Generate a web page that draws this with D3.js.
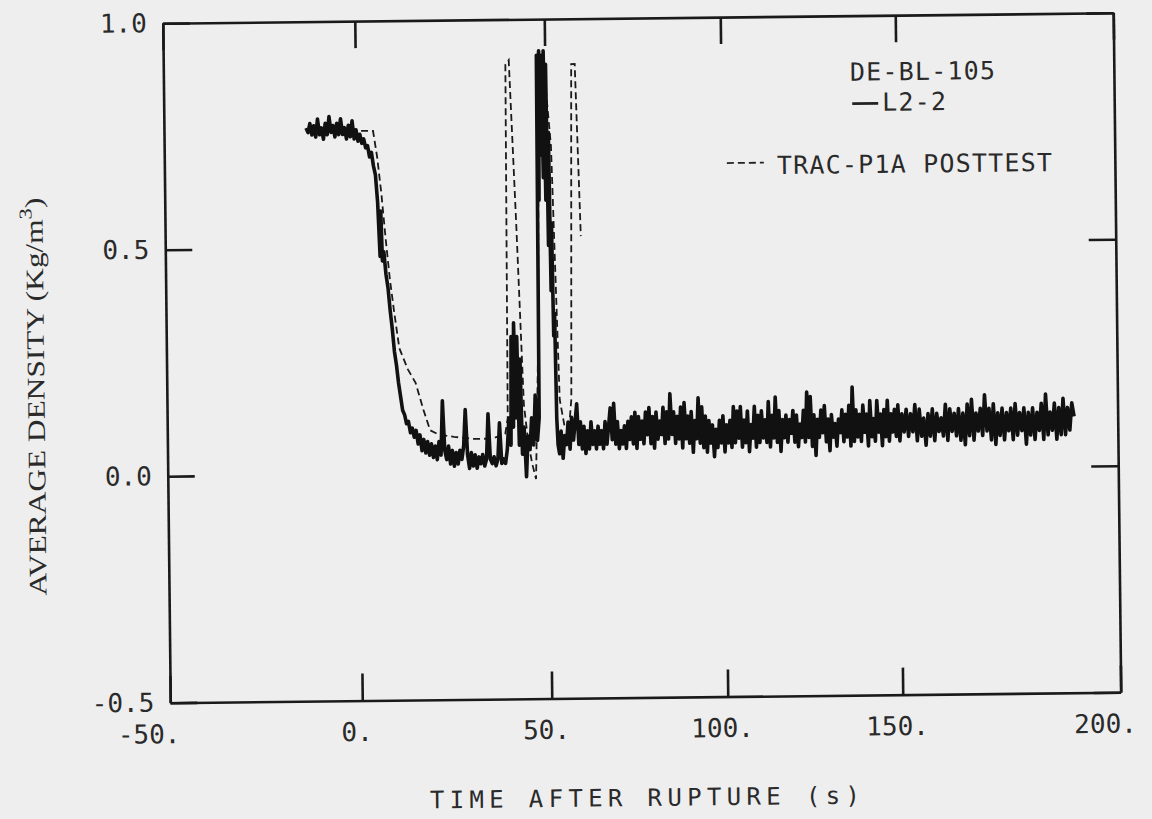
<!DOCTYPE html>
<html>
<head>
<meta charset="utf-8">
<script src="https://cdn.jsdelivr.net/npm/d3@7"></script>
<style>
  html, body { margin: 0; padding: 0; background: #eeeeee; }
  svg { display: block; }
  .tick text { font-family: "DejaVu Sans Mono", monospace; font-size: 26px; fill: #2a2a2a; }
  .legend { font-family: "DejaVu Sans Mono", monospace; font-size: 25px; fill: #2a2a2a; letter-spacing: 1.2px; }
</style>
</head>
<body>
<div id="chart"></div>
<script>
const width = 1152, height = 819;
const margin = {left: 166.5, right: 35, top: 18, bottom: 121.5};
const innerWidth = width - margin.left - margin.right;
const innerHeight = height - margin.top - margin.bottom;

// axis ticks
const xTicks = [-50, 0, 50, 100, 150, 200];
const yTicks = [-0.5, 0.0, 0.5, 1.0];

// measured L2-2 density, early part (time s, density kg/m3)
const expTime = [-13, -12.5, -12, -11.5, -11, -10.5, -10, -9.5, -9, -8.5, -8, -7.5, -7, -6.5, -6, -5.5, -5, -4.5, -4, -3.5,
  -3, -2.5, -2, -1.5, -1, -0.5, 0, 0.5, 1, 1.5, 2, 2.5, 3, 3.5, 4, 4.5, 5, 5.5, 6, 6.3, 6.6, 7, 7.5, 8, 8.5, 9, 9.5, 10,
  10.5, 11, 11.5, 12, 12.5, 13, 13.5, 14, 14.5, 15, 15.5, 16, 16.5, 17, 17.5, 18, 18.5, 19, 19.5, 20, 20.5, 21, 21.5,
  22, 22.5, 23, 23.5, 24, 24.5, 25, 25.5, 26, 26.5, 27, 27.5, 28, 28.5, 29, 29.5, 30, 30.5, 31, 31.5, 32, 32.5, 33, 33.5,
  34, 34.5, 35, 35.5, 36, 36.5, 37, 37.5, 38, 38.5, 39, 39.5, 40, 40.3, 40.7, 41, 41.4, 41.8, 42.2, 42.6, 43, 43.5, 44,
  44.5, 45, 45.5, 46, 46.5, 47, 47.5, 47.8, 48.1, 48.4, 48.7, 49.0, 49.3, 49.6, 49.9, 50.2, 50.5, 50.8, 51.1, 51.4, 51.7,
  52.0, 52.3, 52.6];
const expDensity = [0.765, 0.755, 0.775, 0.75, 0.77, 0.745, 0.785, 0.75, 0.765, 0.74, 0.775, 0.75, 0.79, 0.755, 0.77, 0.745, 0.775, 0.75, 0.785, 0.75,
  0.765, 0.74, 0.77, 0.745, 0.78, 0.74, 0.76, 0.735, 0.75, 0.73, 0.74, 0.72, 0.725, 0.70, 0.71, 0.68, 0.66, 0.60, 0.48, 0.58, 0.47, 0.49, 0.44, 0.41, 0.36, 0.32, 0.27, 0.24,
  0.20, 0.17, 0.14, 0.13, 0.11, 0.115, 0.09, 0.10, 0.08, 0.095, 0.065, 0.085, 0.05, 0.075, 0.045, 0.07, 0.04, 0.065, 0.035, 0.06, 0.03, 0.07, 0.04,
  0.16, 0.05, 0.03, 0.06, 0.02, 0.05, 0.015, 0.045, 0.02, 0.05, 0.03, 0.06, 0.14, 0.04, 0.01, 0.045, 0.015, 0.04, 0.01, 0.035, 0.02, 0.04, 0.015, 0.03,
  0.13, 0.03, 0.02, 0.035, 0.015, 0.03, 0.11, 0.02, 0.03, 0.02, 0.05, 0.12, 0.06, 0.30, 0.10, 0.33, 0.12, 0.30, 0.06, 0.25, 0.04, 0.10, -0.01,
  0.08, 0.05, 0.12, 0.06, 0.17, 0.07, 0.12, 0.92, 0.60, 0.93, 0.70, 0.92, 0.65, 0.93, 0.60, 0.90, 0.50, 0.75, 0.40, 0.55, 0.30,
  0.35, 0.12, 0.06];

// measured L2-2 density after 53 s, sampled every 0.5 s
const tailStart = 53, tailStep = 0.5;
const tailDensity = [
  0.04, 0.09, 0.03, 0.08, 0.06, 0.11, 0.05, 0.12, 0.07, 0.11,
  0.15, 0.06, 0.11, 0.05, 0.10, 0.04, 0.09, 0.05, 0.11, 0.06,
  0.09, 0.05, 0.10, 0.06, 0.09, 0.05, 0.11, 0.06, 0.10, 0.14,
  0.07, 0.15, 0.06, 0.11, 0.05, 0.09, 0.06, 0.10, 0.05, 0.11,
  0.07, 0.12, 0.06, 0.13, 0.05, 0.12, 0.07, 0.11, 0.06, 0.13,
  0.08, 0.14, 0.06, 0.12, 0.05, 0.13, 0.07, 0.11, 0.08, 0.14,
  0.06, 0.13, 0.07, 0.17, 0.08, 0.13, 0.06, 0.12, 0.07, 0.14,
  0.05, 0.15, 0.07, 0.12, 0.06, 0.13, 0.04, 0.11, 0.07, 0.16,
  0.06, 0.14, 0.05, 0.12, 0.04, 0.11, 0.06, 0.10, 0.03, 0.09,
  0.05, 0.11, 0.06, 0.12, 0.04, 0.10, 0.06, 0.11, 0.05, 0.14,
  0.06, 0.13, 0.07, 0.14, 0.05, 0.11, 0.06, 0.13, 0.04, 0.10,
  0.07, 0.14, 0.05, 0.12, 0.06, 0.13, 0.07, 0.11, 0.06, 0.15,
  0.05, 0.12, 0.07, 0.16, 0.06, 0.13, 0.04, 0.11, 0.07, 0.12,
  0.06, 0.11, 0.08, 0.13, 0.06, 0.12, 0.05, 0.10, 0.07, 0.13,
  0.06, 0.17, 0.07, 0.16, 0.05, 0.12, 0.03, 0.11, 0.07, 0.13,
  0.08, 0.14, 0.06, 0.11, 0.04, 0.12, 0.07, 0.10, 0.05, 0.11,
  0.08, 0.13, 0.06, 0.12, 0.07, 0.14, 0.05, 0.18, 0.06, 0.13,
  0.07, 0.12, 0.06, 0.14, 0.08, 0.12, 0.05, 0.15, 0.07, 0.11,
  0.06, 0.15, 0.08, 0.12, 0.05, 0.13, 0.07, 0.15, 0.06, 0.12,
  0.08, 0.13, 0.07, 0.14, 0.06, 0.12, 0.08, 0.13, 0.07, 0.12,
  0.08, 0.14, 0.06, 0.13, 0.07, 0.11, 0.05, 0.12, 0.07, 0.13,
  0.06, 0.12, 0.08, 0.11, 0.07, 0.14, 0.06, 0.13, 0.08, 0.12,
  0.07, 0.13, 0.06, 0.12, 0.05, 0.14, 0.07, 0.15, 0.06, 0.12,
  0.08, 0.13, 0.07, 0.16, 0.08, 0.13, 0.06, 0.14, 0.05, 0.12,
  0.07, 0.13, 0.06, 0.12, 0.08, 0.13, 0.06, 0.14, 0.07, 0.12,
  0.08, 0.13, 0.05, 0.12, 0.07, 0.13, 0.06, 0.12, 0.08, 0.14,
  0.06, 0.16, 0.07, 0.12, 0.08, 0.14, 0.06, 0.13, 0.07, 0.15,
  0.07, 0.13, 0.08, 0.14, 0.11];

// TRAC-P1A posttest calculation
const tracTime = [-13, 4.5, 5.5, 6.5, 7.5, 8.5, 9.5, 10.8, 13, 15, 17, 18.7, 21, 25, 30, 35, 38.5, 39.2, 39.6, 40.5,
  42.0, 43.5, 44.5, 45.5, 46.5, 47.5, 48.3, 49.5, 51.5, 53.2, 54.5, 55.8, 56.5, 57.5, 58.5, 59.7];
const tracDensity = [0.76, 0.757, 0.70, 0.62, 0.52, 0.43, 0.36, 0.277, 0.23, 0.20, 0.14, 0.095, 0.085, 0.08, 0.075, 0.075, 0.085, 0.12, 0.90, 0.91,
  0.55, 0.15, 0.07, 0.02, -0.015, 0.30, 0.90, 0.92, 0.72, 0.16, 0.10, 0.10, 0.16, 0.90, 0.90, 0.52];

const expData = expTime.map((t, i) => ({t: t, v: expDensity[i]}))
  .concat(tailDensity.map((v, i) => ({t: tailStart + i * tailStep, v: v})));
const tracData = tracTime.map((t, i) => ({t: t, v: tracDensity[i]}));

const svg = d3.select("#chart")
  .append("svg")
  .attr("width", width)
  .attr("height", height);

// the scanned page is tilted a little
const page = svg.append("g")
  .attr("transform", `rotate(-0.63, 641, 358)`);

const inner = page.append("g")
  .attr("transform", `translate(${margin.left}, ${margin.top})`);

// the scanned time axis is slightly stretched at its right end, so the scale is piecewise
const xScale = d3.scaleLinear()
  .domain(xTicks)
  .range([0, 192, 381.5, 557.5, 732.5, innerWidth]);
const yScale = d3.scaleLinear().domain([-0.5, 1.0]).range([innerHeight, 0]);

const line = d3.line()
  .x(d => xScale(d.t))
  .y(d => yScale(d.v));

inner.append("path")
  .datum(tracData)
  .attr("fill", "none")
  .attr("stroke", "#1a1a1a")
  .attr("stroke-width", 1.8)
  .attr("stroke-dasharray", "7,4")
  .attr("d", line);

inner.append("path")
  .datum(expData)
  .attr("fill", "none")
  .attr("stroke", "#111")
  .attr("stroke-width", 3.6)
  .attr("stroke-linejoin", "round")
  .attr("d", line);

// axes: inward ticks on all four sides
const tickLen = 27;
const styleAxis = g => {
  g.select(".domain").attr("stroke", "#1a1a1a").attr("stroke-width", 2.6);
  g.selectAll(".tick line").attr("stroke", "#1a1a1a").attr("stroke-width", 2.6);
};

inner.append("g")
  .attr("transform", `translate(0, ${innerHeight})`)
  .call(d3.axisBottom(xScale).tickValues(xTicks).tickSizeInner(-tickLen).tickSizeOuter(0).tickPadding(22)
    .tickFormat(d => d + "."))
  .call(styleAxis)
  .call(g => g.selectAll(".tick text").attr("dx", d => d === -50 ? -22 : d === 200 ? -16 : -6));

// top and right: tick marks only
inner.append("g")
  .call(d3.axisTop(xScale).tickValues(xTicks).tickSizeInner(-tickLen).tickSizeOuter(0))
  .call(styleAxis)
  .call(g => g.selectAll(".tick text").remove());

inner.append("g")
  .call(d3.axisLeft(yScale).tickValues(yTicks).tickSizeInner(-tickLen).tickSizeOuter(0).tickPadding(16)
    .tickFormat(d => d.toFixed(1)))
  .call(styleAxis);

inner.append("g")
  .attr("transform", `translate(${innerWidth}, 0)`)
  .call(d3.axisRight(yScale).tickValues(yTicks).tickSizeInner(-tickLen).tickSizeOuter(0))
  .call(styleAxis)
  .call(g => g.selectAll(".tick text").remove());

// legend (page coordinates)
const legend = page.append("g");
legend.append("text").attr("class", "legend")
  .attr("x", 853).attr("y", 83)
  .text("DE-BL-105");
legend.append("line")
  .attr("x1", 855).attr("x2", 881)
  .attr("y1", 106).attr("y2", 106)
  .attr("stroke", "#222").attr("stroke-width", 2.6);
legend.append("text").attr("class", "legend")
  .attr("x", 885).attr("y", 113.5)
  .text("L2-2");
legend.append("line")
  .attr("x1", 729).attr("x2", 766)
  .attr("y1", 164).attr("y2", 164)
  .attr("stroke", "#222").attr("stroke-width", 1.8)
  .attr("stroke-dasharray", "7,4");
legend.append("text").attr("class", "legend")
  .attr("x", 779).attr("y", 175.5)
  .text("TRAC-P1A POSTTEST");

// axis labels
page.append("text")
  .attr("x", 640).attr("y", 806)
  .attr("text-anchor", "middle")
  .attr("textLength", 430)
  .attr("lengthAdjust", "spacing")
  .style("font-family", "'DejaVu Sans Mono', monospace")
  .style("font-size", "24px")
  .style("fill", "#2a2a2a")
  .text("TIME AFTER RUPTURE (s)");

const yLabel = page.append("text")
  .attr("transform", "translate(44, 390) rotate(-90)")
  .attr("text-anchor", "middle")
  .attr("textLength", 398)
  .attr("lengthAdjust", "spacingAndGlyphs")
  .style("font-family", "'Liberation Serif', serif")
  .style("font-size", "25px")
  .style("fill", "#2a2a2a");
yLabel.append("tspan").text("AVERAGE DENSITY (Kg/m");
yLabel.append("tspan").attr("dy", -11).style("font-size", "18px").text("3");
yLabel.append("tspan").attr("dy", 11).text(")");
</script>
</body>
</html>
